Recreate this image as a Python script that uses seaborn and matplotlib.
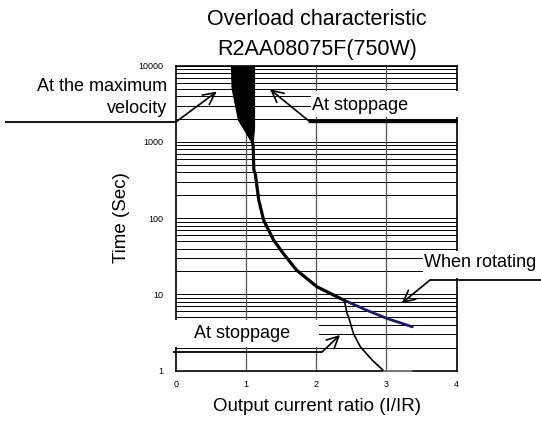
import numpy as np
import pandas as pd
import matplotlib
matplotlib.use("Agg")
import matplotlib.pyplot as plt
from matplotlib.patches import Rectangle
from matplotlib.lines import Line2D
import seaborn as sns

# ---- data ----
vmax_x = [0.79, 0.80, 0.89, 1.09]          # "At the maximum velocity" boundary
vmax_y = [10000, 5000, 1940, 960]
stop_hi_x = [1.12, 1.12, 1.10]              # "At stoppage" boundary (upper)
stop_hi_y = [10000, 1500, 960]
rot_x = [1.09, 1.10, 1.11, 1.13, 1.18, 1.25, 1.39, 1.53, 1.72, 2.01, 2.34, 2.40]
rot_y = [1000, 900, 430, 387, 173, 94, 52, 34.5, 20.8, 12.6, 8.9, 8.4]
rot_hi_x = [2.40, 2.72, 3.01, 3.37]         # "When rotating" (blue part)
rot_hi_y = [8.4, 6.2, 4.84, 3.76]
stop_lo_x = [2.40, 2.44, 2.46, 2.53, 2.63, 2.80, 2.96]   # "At stoppage" (lower)
stop_lo_y = [8.4, 5.6, 5.1, 3.07, 2.05, 1.37, 1.0]
floor_x = [2.96, 3.37]
floor_y = [1.0, 1.0]
x_ticks = [0, 1, 2, 3, 4]
y_ticks = [1, 10, 100, 1000, 10000]
y_ticklabels = ["1", "10", "100", "1000", "10000"]

sns.set_theme(style="white")
plt.rcParams['font.family'] = ['Liberation Sans', 'DejaVu Sans']

W, H = 541, 421
fig = plt.figure(figsize=(W / 100, H / 100), dpi=100)
ax = fig.add_axes([176 / W, 1 - 370.7 / H, (456.5 - 176) / W, (370.7 - 65.7) / H])

ax.set_yscale('log')
ax.set_xlim(0, 4)
ax.set_ylim(1, 10000)

# grid
for dec in [1, 10, 100, 1000]:
    for m in range(1, 10):
        ax.axhline(dec * m, color='black', lw=0.7, zorder=1)
ax.axhline(10000, color='black', lw=0.7, zorder=1)
for xv in [1, 2, 3]:
    ax.axvline(xv, color='#555555', lw=0.9, zorder=1)

# filled band between max-velocity and stoppage curves
poly_x = vmax_x + stop_hi_x[::-1]
poly_y = vmax_y + stop_hi_y[::-1]
ax.fill(poly_x, poly_y, color='black', lw=0.8, zorder=4)

line_kw = dict(sort=False, estimator=None, ax=ax, zorder=5)
df_rot = pd.DataFrame({'x': rot_x, 'y': rot_y})
sns.lineplot(data=df_rot, x='x', y='y', color='black', lw=2.3, **line_kw)
df_hi = pd.DataFrame({'x': rot_hi_x, 'y': rot_hi_y})
sns.lineplot(data=df_hi, x='x', y='y', color='#1a1a70', lw=2.0, **line_kw)
df_lo = pd.DataFrame({'x': stop_lo_x, 'y': stop_lo_y})
sns.lineplot(data=df_lo, x='x', y='y', color='black', lw=1.2, **line_kw)
df_fl = pd.DataFrame({'x': floor_x, 'y': floor_y})
sns.lineplot(data=df_fl, x='x', y='y', color='#888888', lw=1.2, **line_kw)
for l in ax.lines:
    l.set_solid_joinstyle('round')
    l.set_solid_capstyle('round')
ax.lines[-1].set_clip_on(False)

ax.set_xticks(x_ticks)
ax.set_xticklabels([str(v) for v in x_ticks])
ax.set_yticks(y_ticks)
ax.set_yticklabels(y_ticklabels)
ax.yaxis.set_minor_locator(matplotlib.ticker.NullLocator())
ax.tick_params(axis='both', length=0, labelsize=6.5, colors='black')
ax.tick_params(axis='y', pad=9)
ax.tick_params(axis='x', pad=7)
ax.set_xlabel('')
ax.set_ylabel('')
for s in ax.spines.values():
    s.set_color('black')
    s.set_linewidth(1.2)


def P(x, y):
    return (x / W, 1 - y / H)


# white boxes behind annotation texts
for (x0, y0, x1, y1) in [(311, 91.5, 462, 117.5), (423, 250.5, 541, 278), (150, 320, 318.5, 346.5)]:
    fig.add_artist(Rectangle(P(x0, y1), (x1 - x0) / W, (y1 - y0) / H,
                             transform=fig.transFigure, facecolor='white',
                             edgecolor='none', zorder=10))


def polyline(pts, lw):
    xs = [p[0] / W for p in pts]
    ys = [1 - p[1] / H for p in pts]
    fig.add_artist(Line2D(xs, ys, transform=fig.transFigure, color='black',
                          lw=lw, zorder=11, solid_capstyle='butt'))


def arrow(p0, p1):
    fig.add_artist(matplotlib.patches.FancyArrowPatch(
        P(*p0), P(*p1), transform=fig.transFigure, arrowstyle='->,head_length=0.7,head_width=0.35',
        mutation_scale=12, lw=1.2, color='black', zorder=11, shrinkA=0, shrinkB=0))


polyline([(5, 121.5), (176.5, 121.5)], 1.3)
arrow((176.5, 121.5), (216.7, 91.7))
polyline([(308.3, 120.5), (457, 120.5)], 2.4)
arrow((308.3, 120.5), (270, 89.3))
polyline([(541, 280), (430, 280)], 1.3)
arrow((430, 280), (401.7, 303.3))
polyline([(173, 352.3), (321.7, 352.3)], 1.3)
arrow((321.7, 352.3), (340, 335))

tk = dict(transform=fig.transFigure, color='black', zorder=12)
fig.text(*P(166.7, 91), 'At the maximum', ha='right', va='baseline', fontsize=13, **tk)
fig.text(*P(166.7, 113), 'velocity', ha='right', va='baseline', fontsize=13, **tk)
fig.text(*P(312, 110), 'At stoppage', ha='left', va='baseline', fontsize=13, **tk)
fig.text(*P(424.3, 267), 'When rotating', ha='left', va='baseline', fontsize=13, **tk)
fig.text(*P(194.3, 338.3), 'At stoppage', ha='left', va='baseline', fontsize=13, **tk)

fig.text(*P(317, 25), 'Overload characteristic', ha='center', va='baseline', fontsize=15.5, **tk)
fig.text(*P(317, 55), 'R2AA08075F(750W)', ha='center', va='baseline', fontsize=15.5, **tk)
fig.text(*P(317, 411), 'Output current ratio (I/IR)', ha='center', va='baseline', fontsize=13.5, **tk)
fig.text(*P(122, 218), 'Time (Sec)', ha='center', va='center', rotation=90, fontsize=13.5, **tk)

fig.savefig('out.png', dpi=100, facecolor='white')
